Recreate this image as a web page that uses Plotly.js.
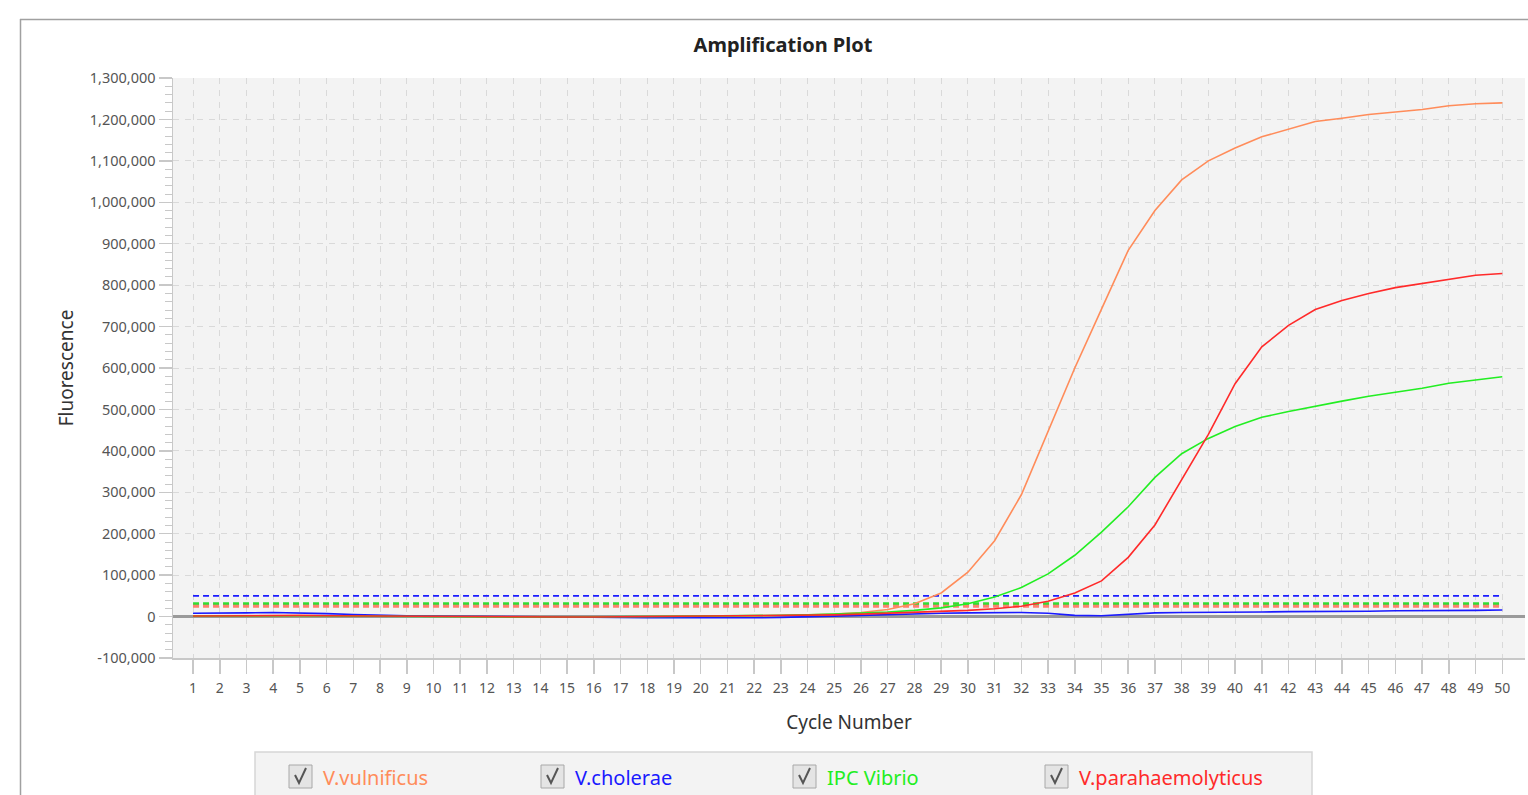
<!DOCTYPE html>
<html>
<head>
<meta charset="utf-8">
<script src="https://cdn.plot.ly/plotly-3.0.1.min.js"></script>
<style>
  html, body { margin: 0; padding: 0; background: #ffffff; overflow: hidden; }
  #chart { width: 1528px; height: 795px; }
</style>
</head>
<body>
<div id="chart"></div>
<script>
// ---- data ----
const cycles = [1,2,3,4,5,6,7,8,9,10,11,12,13,14,15,16,17,18,19,20,21,22,23,24,25,26,27,28,29,30,31,32,33,34,35,36,37,38,39,40,41,42,43,44,45,46,47,48,49,50];

const seriesNames = ['V.vulnificus', 'V.cholerae', 'IPC Vibrio', 'V.parahaemolyticus'];
const seriesColors = ['#ff8c5a', '#1a1aff', '#22ee22', '#ff2a2a'];

const vulnificus = [2000,2500,2500,3000,3000,2500,2000,2000,1500,1000,500,0,-500,-1000,-1000,-1000,-500,-500,0,0,500,1000,2000,4000,6000,10000,17000,31000,57000,107000,183000,294000,446000,600000,742000,884000,980000,1054000,1100000,1131000,1158000,1176000,1195000,1203000,1212000,1218000,1224000,1233000,1238000,1240000];
const cholerae = [8000,8000,9000,10000,9000,7000,5000,3000,2000,1500,1000,0,-1000,-2000,-2000,-2500,-2500,-2500,-2500,-3000,-3000,-3000,-2000,-1000,1000,3000,5000,7000,8000,9000,10000,10000,8000,3000,2000,6000,9000,10000,10000,11000,11000,12000,12000,13000,13000,14000,14000,15000,15000,16000];
const ipcVibrio = [1000,1500,2000,2000,2000,1500,1000,1000,500,500,0,-500,-500,-1000,-1000,-1000,-500,0,500,1000,1500,2000,3000,4000,6000,8000,11000,15000,21000,31000,47000,70000,103000,148000,204000,265000,336000,393000,430000,459000,481000,495000,508000,520000,532000,541000,551000,563000,571000,579000];
const parahaemolyticus = [1500,2000,2000,2500,2500,2000,1500,1500,1000,500,0,-500,-1000,-1000,-1000,-1000,-500,-500,0,500,1000,1500,2000,3000,4000,6000,8000,10000,12000,15000,19000,25000,37000,57000,86000,143000,221000,332000,440000,562000,651000,703000,741000,763000,780000,794000,804000,814000,824000,828000];

const seriesValues = [vulnificus, cholerae, ipcVibrio, parahaemolyticus];

// threshold levels (dashed lines)
const thresholdValues = [50000, 31000, 25000];
const thresholdColors = ['#1a1aff', '#33dd33', '#ff8070'];

// tick labels
const yTickVals = [-100000,0,100000,200000,300000,400000,500000,600000,700000,800000,900000,1000000,1100000,1200000,1300000];
const yTickText = ['-100,000','0','100,000','200,000','300,000','400,000','500,000','600,000','700,000','800,000','900,000','1,000,000','1,100,000','1,200,000','1,300,000'];

// ---- layout helpers (pixel -> paper) ----
const W = 1528, H = 795;
const M = { l: 173, r: 3, t: 78, b: 137 };
const PW = W - M.l - M.r, PH = H - M.t - M.b;
const px = v => (v - M.l) / PW;
const py = v => (H - M.b - v) / PH;

const traces = [];
// threshold lines
thresholdValues.forEach((t, i) => {
  traces.push({
    x: [cycles[0], cycles[cycles.length - 1]],
    y: [t, t],
    type: 'scatter', mode: 'lines',
    line: { color: thresholdColors[i], width: i === 0 ? 1.7 : 3, dash: '6px,4px' },
    showlegend: false, hoverinfo: 'skip'
  });
});
// amplification curves
seriesValues.forEach((vals, i) => {
  traces.push({
    x: cycles, y: vals,
    type: 'scatter', mode: 'lines',
    name: seriesNames[i],
    line: { color: seriesColors[i], width: 1.6 },
    showlegend: false, hoverinfo: 'skip'
  });
});

// custom checkbox legend
const shapes = [];
const annotations = [];
// outer frame
shapes.push({ type: 'line', xref: 'paper', yref: 'paper', x0: px(20), x1: px(1600), y0: py(19.5), y1: py(19.5), line: { color: '#a0a0a0', width: 1.5 } });
shapes.push({ type: 'line', xref: 'paper', yref: 'paper', x0: px(20.5), x1: px(20.5), y0: py(19), y1: py(900), line: { color: '#a0a0a0', width: 1.5 } });
// legend box
shapes.push({ type: 'rect', xref: 'paper', yref: 'paper', x0: px(255), x1: px(1312), y0: py(752), y1: py(820), fillcolor: '#f3f3f3', line: { color: '#d6d6d6', width: 1.5 }, layer: 'above' });

const legendStart = 289, legendStep = 252;
seriesNames.forEach((name, i) => {
  const bx = legendStart + i * legendStep;
  shapes.push({ type: 'rect', xref: 'paper', yref: 'paper', x0: px(bx), x1: px(bx + 23), y0: py(765), y1: py(788), fillcolor: '#e4e4e4', line: { color: '#a8a8a8', width: 1 }, layer: 'above' });
  shapes.push({ type: 'path', xref: 'paper', yref: 'paper', layer: 'above',
    path: `M ${px(bx + 6)} ${py(775)} L ${px(bx + 10)} ${py(783)} L ${px(bx + 17)} ${py(768)}`,
    line: { color: '#555555', width: 2 } });
  annotations.push({ xref: 'paper', yref: 'paper', x: px(bx + 32), y: py(777), xanchor: 'left', yanchor: 'middle',
    text: name, showarrow: false, font: { family: 'Noto Sans, Open Sans, sans-serif', size: 20, color: seriesColors[i] } });
});

const layout = {
  width: W, height: H,
  margin: M,
  paper_bgcolor: '#ffffff',
  plot_bgcolor: '#f3f3f3',
  font: { family: 'Noto Sans, Open Sans, sans-serif', color: '#555555', size: 12 },
  title: {
    text: '<b>Amplification Plot</b>',
    font: { family: 'Noto Sans, Open Sans, sans-serif', size: 20, color: '#222222' },
    x: 783 / W, xref: 'container', xanchor: 'center',
    y: 1 - 45 / H, yref: 'container', yanchor: 'middle'
  },
  xaxis: {
    range: [0.25, 50.85],
    tickmode: 'linear', tick0: 1, dtick: 1,
    showgrid: true, gridcolor: '#d9d9d9', griddash: '6px,6px', gridwidth: 1,
    showline: true, linecolor: '#c8c8c8', linewidth: 1.5,
    ticks: 'outside', ticklen: 14, tickcolor: '#c8c8c8', tickwidth: 1.5,
    ticklabelstandoff: 3,
    tickfont: { size: 14, color: '#555555' },
    zeroline: false,
    title: { text: 'Cycle Number', standoff: 19, font: { size: 19, color: '#333333' } }
  },
  yaxis: {
    range: [-100000, 1300000],
    tickmode: 'array', tickvals: yTickVals, ticktext: yTickText,
    showgrid: true, gridcolor: '#d9d9d9', griddash: '6px,6px', gridwidth: 1,
    showline: true, linecolor: '#c8c8c8', linewidth: 1.5,
    ticks: 'outside', ticklen: 13, tickcolor: '#c8c8c8', tickwidth: 1.5,
    tickfont: { size: 14.5, color: '#555555' },
    minor: { tickmode: 'linear', tick0: -100000, dtick: 20000, ticks: 'outside', ticklen: 7, tickcolor: '#c8c8c8', tickwidth: 1, showgrid: false },
    zeroline: true, zerolinecolor: '#9a9a9a', zerolinewidth: 2.5,
    title: { text: 'Fluorescence', standoff: 11, font: { size: 19, color: '#333333' } }
  },
  shapes: shapes,
  annotations: annotations,
  showlegend: false
};

Plotly.newPlot('chart', traces, layout, { staticPlot: true, displayModeBar: false });
</script>
</body>
</html>
